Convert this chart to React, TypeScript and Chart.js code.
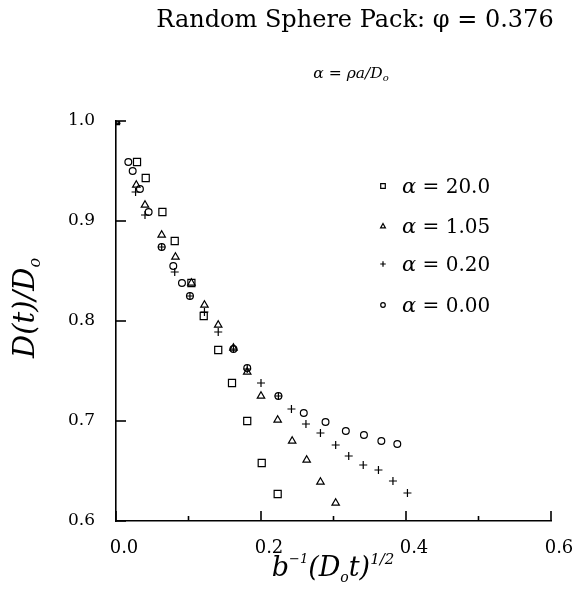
import React, { useEffect, useRef } from 'react';
import { Chart, registerables } from 'chart.js';

Chart.register(...registerables);

// ---- data ----
const squareX = [0.0, 0.029, 0.041, 0.064, 0.081, 0.104, 0.121, 0.141, 0.160, 0.181, 0.201, 0.223];
const squareY = [1.0, 0.959, 0.943, 0.909, 0.880, 0.838, 0.805, 0.771, 0.738, 0.700, 0.658, 0.627];

const triangleX = [0.0, 0.028, 0.040, 0.063, 0.082, 0.104, 0.122, 0.141, 0.162, 0.181, 0.200, 0.223, 0.243, 0.263, 0.282, 0.303];
const triangleY = [1.0, 0.936, 0.916, 0.886, 0.864, 0.838, 0.816, 0.796, 0.773, 0.749, 0.725, 0.701, 0.680, 0.661, 0.639, 0.618];

const plusX = [0.0, 0.027, 0.040, 0.063, 0.081, 0.102, 0.122, 0.141, 0.162, 0.181, 0.200, 0.224, 0.242, 0.262, 0.282, 0.303, 0.321, 0.341, 0.362, 0.382, 0.402];
const plusY = [1.0, 0.929, 0.906, 0.874, 0.849, 0.825, 0.809, 0.789, 0.772, 0.752, 0.738, 0.725, 0.712, 0.697, 0.688, 0.676, 0.665, 0.656, 0.651, 0.640, 0.628];

const circleX = [0.0, 0.017, 0.023, 0.033, 0.045, 0.063, 0.079, 0.091, 0.102, 0.162, 0.181, 0.224, 0.259, 0.289, 0.317, 0.342, 0.366, 0.388];
const circleY = [1.0, 0.959, 0.950, 0.932, 0.909, 0.874, 0.855, 0.838, 0.825, 0.772, 0.753, 0.725, 0.708, 0.699, 0.690, 0.686, 0.680, 0.677];

const seriesAlphas = ['20.0', '1.05', '0.20', '0.00'];
const seriesLabels = seriesAlphas.map((a) => `α = ${a}`);

const xTickValues = [0.0, 0.1, 0.2, 0.3, 0.4, 0.5, 0.6];
const xTickLabels = ['0.0', '', '0.2', '', '0.4', '', '0.6'];
const yTickValues = [0.6, 0.7, 0.8, 0.9, 1.0];
const yTickLabels = ['0.6', '0.7', '0.8', '0.9', '1.0'];

const titleText = 'Random Sphere Pack: φ = 0.376';

// ---- helpers ----
const SERIF = "'DejaVu Serif', serif";

function pts(xs: number[], ys: number[]) {
  return xs.map((x, i) => ({ x, y: ys[i] }));
}

type Part = { t: string; size: number; dy?: number; italic?: boolean };

function richWidth(ctx: CanvasRenderingContext2D, parts: Part[]) {
  let w = 0;
  for (const p of parts) {
    ctx.font = `${p.italic ? 'italic ' : ''}${p.size}px ${SERIF}`;
    w += ctx.measureText(p.t).width;
  }
  return w;
}

function drawRich(ctx: CanvasRenderingContext2D, parts: Part[], x: number, y: number, align: 'left' | 'center') {
  let cx = align === 'center' ? x - richWidth(ctx, parts) / 2 : x;
  ctx.textAlign = 'left';
  ctx.textBaseline = 'alphabetic';
  for (const p of parts) {
    ctx.font = `${p.italic ? 'italic ' : ''}${p.size}px ${SERIF}`;
    ctx.fillText(p.t, cx, y + (p.dy || 0));
    cx += ctx.measureText(p.t).width;
  }
}

function drawMarker(ctx: CanvasRenderingContext2D, kind: string, x: number, y: number, s: number) {
  ctx.beginPath();
  if (kind === 'rect') {
    ctx.rect(x - s, y - s, 2 * s, 2 * s);
  } else if (kind === 'triangle') {
    ctx.moveTo(x, y - s * 1.1);
    ctx.lineTo(x + s * 1.05, y + s * 0.8);
    ctx.lineTo(x - s * 1.05, y + s * 0.8);
    ctx.closePath();
  } else if (kind === 'cross') {
    ctx.moveTo(x - s * 1.2, y);
    ctx.lineTo(x + s * 1.2, y);
    ctx.moveTo(x, y - s * 1.2);
    ctx.lineTo(x, y + s * 1.2);
  } else {
    ctx.arc(x, y, s, 0, Math.PI * 2);
  }
  ctx.stroke();
}

const markerKinds = ['rect', 'triangle', 'cross', 'circle'];

const decorPlugin = {
  id: 'decor',
  afterDraw(chart: any) {
    const ctx: CanvasRenderingContext2D = chart.ctx;
    const { left, bottom } = chart.chartArea;
    const xs = chart.scales.x;
    const ys = chart.scales.y;
    ctx.save();
    ctx.strokeStyle = '#000';
    ctx.fillStyle = '#000';
    ctx.lineWidth = 1.6;
    // inward ticks
    yTickValues.forEach((v) => {
      const py = ys.getPixelForValue(v);
      ctx.beginPath();
      ctx.moveTo(left, py);
      ctx.lineTo(left + 10, py);
      ctx.stroke();
    });
    xTickValues.forEach((v, i) => {
      const px = xs.getPixelForValue(v);
      const len = xTickLabels[i] ? 10 : 5;
      ctx.beginPath();
      ctx.moveTo(px, bottom);
      ctx.lineTo(px, bottom - len);
      ctx.stroke();
    });

    // legend
    ctx.lineWidth = 1.2;
    const legX = 383;
    const legY = [186, 226, 264, 305];
    seriesAlphas.forEach((a, i) => {
      drawMarker(ctx, markerKinds[i], legX, legY[i], 2.3);
      drawRich(ctx, [
        { t: 'α', size: 21, italic: true },
        { t: ` = ${a}`, size: 20 },
      ], 402, legY[i] + 7, 'left');
    });

    // title
    ctx.font = `24px ${SERIF}`;
    ctx.textAlign = 'center';
    ctx.textBaseline = 'alphabetic';
    ctx.fillText(titleText, 355, 27);

    // subtitle  α = ρa/D_o
    drawRich(ctx, [
      { t: 'α = ρa/D', size: 15.5, italic: true },
      { t: 'o', size: 10, dy: 3, italic: true },
    ], 351, 78, 'center');

    // x-axis title  b^{-1}(D_o t)^{1/2}
    drawRich(ctx, [
      { t: 'b', size: 27, italic: true },
      { t: '−1', size: 13, dy: -13, italic: true },
      { t: '(D', size: 27, italic: true },
      { t: 'o', size: 14, dy: 6, italic: true },
      { t: 't)', size: 27, italic: true },
      { t: '1/2', size: 15, dy: -12, italic: true },
    ], 333, 576, 'center');

    // y-axis title  D(t)/D_o (rotated)
    ctx.save();
    ctx.translate(34, 308);
    ctx.rotate(-Math.PI / 2);
    drawRich(ctx, [
      { t: 'D(t)/D', size: 29, italic: true },
      { t: 'o', size: 16, dy: 6, italic: true },
    ], 0, 0, 'center');
    ctx.restore();

    ctx.restore();
  },
};

export default function App() {
  const ref = useRef<HTMLCanvasElement | null>(null);

  useEffect(() => {
    if (!ref.current) return;
    const common = {
      borderColor: '#000',
      backgroundColor: 'rgba(0,0,0,0)',
      borderWidth: 1.2,
      showLine: false,
    };
    const chart = new Chart(ref.current, {
      type: 'scatter',
      data: {
        datasets: [
          { ...common, label: seriesLabels[0], data: pts(squareX, squareY), pointStyle: 'rect', pointRadius: 5, pointHoverRadius: 5 },
          { ...common, label: seriesLabels[1], data: pts(triangleX, triangleY), pointStyle: 'triangle', pointRadius: 4.3, pointHoverRadius: 4.3 },
          { ...common, label: seriesLabels[2], data: pts(plusX, plusY), pointStyle: 'cross', pointRadius: 4, pointHoverRadius: 4 },
          { ...common, label: seriesLabels[3], data: pts(circleX, circleY), pointStyle: 'circle', pointRadius: 3.4, pointHoverRadius: 3.4 },
        ],
      },
      options: {
        responsive: false,
        animation: false,
        devicePixelRatio: 1,
        layout: { padding: { left: 0, right: 21, top: 121, bottom: 0 } },
        plugins: {
          legend: { display: false },
          tooltip: { enabled: false },
          title: { display: false },
        },
        scales: {
          x: {
            type: 'linear',
            min: 0,
            max: 0.6,
            afterBuildTicks: (s: any) => { s.ticks = xTickValues.map((v) => ({ value: v })); },
            afterFit: (s: any) => { s.height = 75; s.paddingLeft = 0; s.paddingRight = 0; },
            grid: { display: false, drawTicks: false },
            border: { display: true, color: '#000', width: 1.6 },
            ticks: {
              color: '#000',
              font: { family: SERIF, size: 18 },
              padding: 17,
              labelOffset: 8,
              maxRotation: 0,
              autoSkip: false,
              callback: (_v: any, i: number) => xTickLabels[i],
            },
          },
          y: {
            type: 'linear',
            min: 0.6,
            max: 1.0,
            afterBuildTicks: (s: any) => { s.ticks = yTickValues.map((v) => ({ value: v })); },
            afterFit: (s: any) => { s.width = 116; s.paddingTop = 0; s.paddingBottom = 0; },
            grid: { display: false, drawTicks: false },
            border: { display: true, color: '#000', width: 1.6 },
            ticks: {
              color: '#000',
              font: { family: SERIF, size: 17 },
              padding: 21,
              autoSkip: false,
              callback: (_v: any, i: number) => yTickLabels[i],
            },
          },
        },
      },
      plugins: [decorPlugin],
    });
    return () => chart.destroy();
  }, []);

  return (
    <div style={{ position: 'fixed', left: 0, top: 0, width: 572, height: 596, background: '#fff' }}>
      <canvas ref={ref} width={572} height={596} style={{ width: 572, height: 596, display: 'block' }} />
    </div>
  );
}
